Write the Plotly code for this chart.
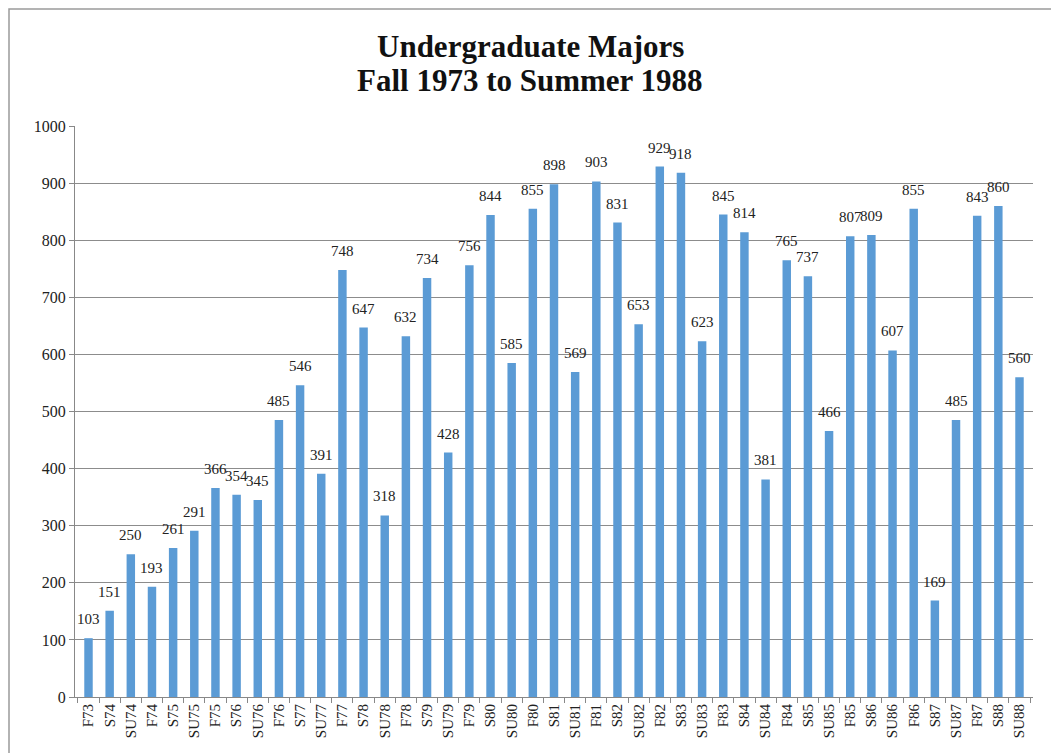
import plotly.graph_objects as go

terms = ["F73","S74","SU74","F74","S75","SU75","F75","S76","SU76","F76","S77","SU77",
         "F77","S78","SU78","F78","S79","SU79","F79","S80","SU80","F80","S81","SU81",
         "F81","S82","SU82","F82","S83","SU83","F83","S84","SU84","F84","S85","SU85",
         "F85","S86","SU86","F86","S87","SU87","F87","S88","SU88"]
majors = [103,151,250,193,261,291,366,354,345,485,546,391,748,647,318,632,734,428,
          756,844,585,855,898,569,903,831,653,929,918,623,845,814,381,765,737,466,
          807,809,607,855,169,485,843,860,560]
y_ticks = [0,100,200,300,400,500,600,700,800,900,1000]
title_lines = ["Undergraduate Majors", "Fall 1973 to Summer 1988"]

W, H = 1059, 753
ml, mr, mt, mb = 67, 34, 118, 64
pw, ph = W - ml - mr, H - mt - mb

fig = go.Figure(go.Bar(x=terms, y=majors, marker_color="#5B9BD5",
                       marker_line_width=0))

for t, v in zip(terms, majors):
    fig.add_annotation(x=t, y=v, text=str(v), showarrow=False, yanchor="bottom",
                       yshift=9, font=dict(family="Liberation Serif", size=15, color="#222"))

for i, line in enumerate(title_lines):
    fig.add_annotation(xref="paper", yref="paper", x=(530 - 8 - ml) / pw,
                       y=1 + (mt - (39 + 33 * i)) / ph, yanchor="middle",
                       text="<b>%s</b>" % line, showarrow=False,
                       font=dict(family="Liberation Serif", size=31, color="#111"))

fig.add_shape(type="rect", xref="paper", yref="paper",
              x0=(1 - ml) / pw, x1=(W + 20 - ml) / pw,
              y0=-(mb + 20) / ph, y1=1 + (mt - 1) / ph,
              line=dict(color="#9a9a9a", width=1.5), layer="below")

fig.update_layout(
    width=W, height=H,
    margin=dict(l=ml, r=mr, t=mt, b=mb),
    paper_bgcolor="white", plot_bgcolor="white",
    bargap=0.6, showlegend=False,
    font=dict(family="Liberation Serif", size=15, color="#222"),
)
fig.update_xaxes(type="category", tickangle=-90, showline=True, linecolor="#888",
                 linewidth=1, ticks="outside", tickson="boundaries", ticklen=5,
                 tickcolor="#888", showgrid=False, automargin=False,
                 tickfont=dict(family="Liberation Serif", size=15))
fig.update_yaxes(range=[0, 1000], tickvals=y_ticks, showline=True, linecolor="#888",
                 linewidth=1, ticks="outside", ticklen=5, tickcolor="#888",
                 showgrid=True, gridcolor="#8c8c8c", gridwidth=1, zeroline=False,
                 automargin=False,
                 tickfont=dict(family="Liberation Serif", size=16))

fig.write_html("out.html")
